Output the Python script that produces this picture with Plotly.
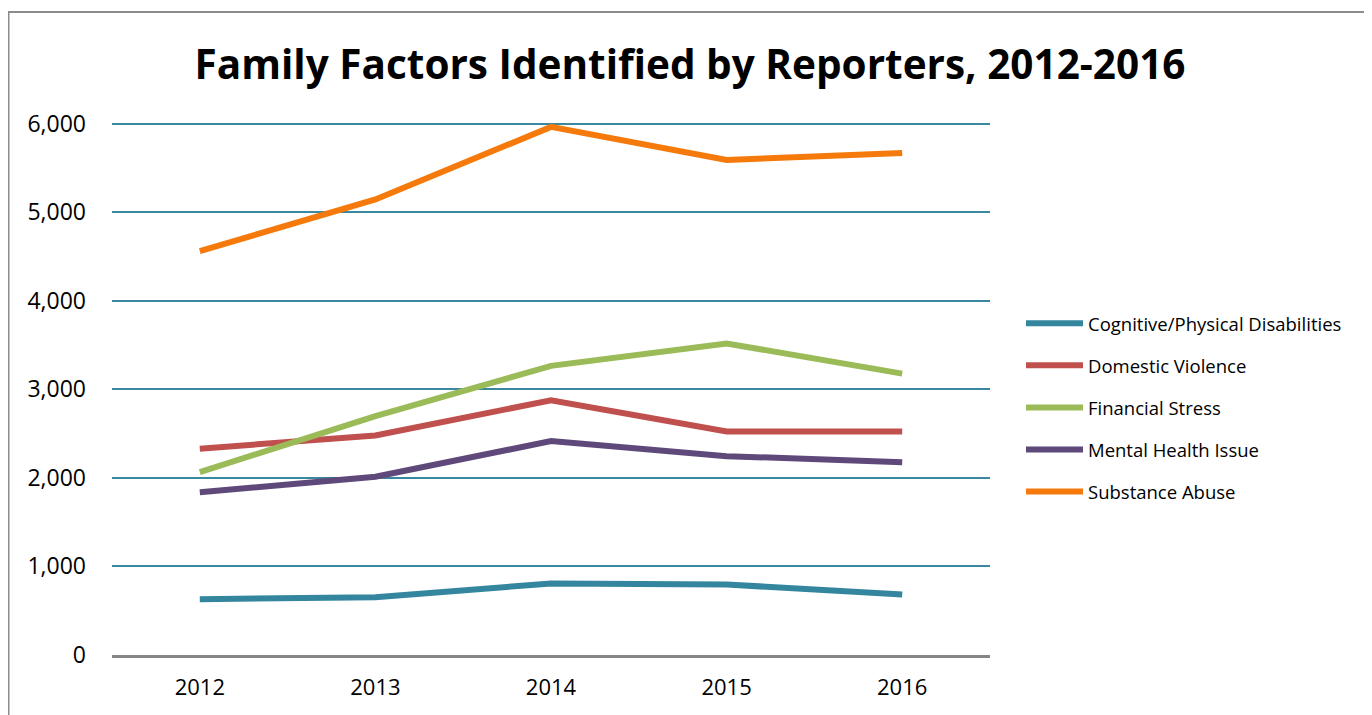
import plotly.graph_objects as go

years = ["2012", "2013", "2014", "2015", "2016"]
cognitive = [630, 653, 807, 796, 683]
domestic = [2329, 2479, 2875, 2524, 2524]
financial = [2064, 2698, 3264, 3517, 3177]
mental = [1838, 2012, 2415, 2245, 2177]
substance = [4559, 5143, 5962, 5589, 5668]

series_names = ["Cognitive/Physical Disabilities", "Domestic Violence", "Financial Stress",
                "Mental Health Issue", "Substance Abuse"]
series_values = [cognitive, domestic, financial, mental, substance]
colors = ["#33869E", "#C0504D", "#9BBB59", "#5F497A", "#F57A0B"]

FONT = "Open Sans"

fig = go.Figure()
for i, (name, vals, col) in enumerate(zip(series_names, series_values, colors)):
    fig.add_trace(go.Scatter(x=years, y=vals, mode="lines", name=name,
                             legendgroup=str(i),
                             line=dict(color=col, width=6)))

OFF = 8  # page body margin
W, H = 1372 - OFF, 715 - OFF
YMAX = 6040
# screen coordinates of plot area (6000 at y=124, 0 at y=655)
SL, SR, SB = 112, 990, 655
ST = SB - (SB - 124) * YMAX / 6000
L, R, T, B = SL - OFF, SR - OFF, ST - OFF, SB - OFF
pw, ph = R - L, B - T

def px(sx):
    return (sx - OFF - L) / pw

def py(sy):
    return (B - (sy - OFF)) / ph

fig.update_layout(
    width=W, height=H,
    margin=dict(l=L, r=W - R, t=T, b=H - B, autoexpand=False),
    paper_bgcolor="white", plot_bgcolor="white",
    font=dict(family=FONT, color="#000000"),
    title=dict(text="<b>Family Factors Identified by Reporters, 2012-2016</b>",
               xref="container", x=(690 - OFF) / W, xanchor="center",
               yref="container", y=1 - (65 - OFF) / H, yanchor="middle",
               font=dict(size=40.5, family=FONT, color="#000000")),
    xaxis=dict(type="category", showgrid=False, showline=True, linecolor="#868686",
               linewidth=3, ticks="", tickfont=dict(size=22, family=FONT),
               range=[-0.5, 4.5], zeroline=False, ticklabelstandoff=11),
    yaxis=dict(range=[0, YMAX], tickvals=[0, 1000, 2000, 3000, 4000, 5000, 6000],
               tickformat=",d", showgrid=True, gridcolor="#3A87A0", gridwidth=2,
               zeroline=False, showline=False, ticks="",
               tickfont=dict(size=23, family=FONT), ticklabelstandoff=25),
    legend=dict(x=px(1021), xanchor="left", y=py(408), yanchor="middle",
                font=dict(size=18.5, family=FONT), tracegroupgap=15,
                itemwidth=57, bgcolor="rgba(0,0,0,0)"),
    showlegend=True,
)

fig.add_shape(type="rect", xref="paper", yref="paper",
              x0=px(8.5), x1=px(1370), y0=py(760), y1=py(12.5),
              line=dict(color="#8C8C8C", width=2), fillcolor="rgba(0,0,0,0)", layer="below")

fig.write_html("out.html")
